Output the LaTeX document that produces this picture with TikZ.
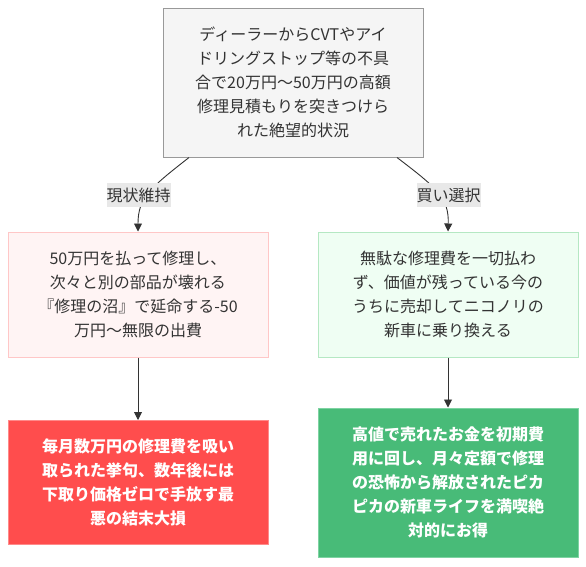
\documentclass[tikz,border=0pt]{standalone}
\usepackage{fontspec}
\setmainfont{Noto Sans CJK JP}
\usetikzlibrary{arrows.meta}
\definecolor{txt}{HTML}{333333}
\definecolor{topfill}{HTML}{F5F5F5}
\definecolor{topdraw}{HTML}{999999}
\definecolor{pinkfill}{HTML}{FFF4F4}
\definecolor{pinkdraw}{HTML}{FFC7C7}
\definecolor{greenfill}{HTML}{EFFEF3}
\definecolor{greendraw}{HTML}{B5E8C3}
\definecolor{redfill}{HTML}{FF4D4D}
\definecolor{reddraw}{HTML}{FF8A8A}
\definecolor{gfill}{HTML}{48BB78}
\definecolor{gdraw}{HTML}{7ED3A2}
\definecolor{lblfill}{HTML}{E8E8E8}
\tikzset{
  box/.style={draw, line width=1pt, minimum width=260pt, inner sep=0pt, align=center,
     font=\fontsize{16}{24}\selectfont, text=txt},
  topbox/.style={box, fill=topfill, draw=topdraw, minimum height=149pt},
  pinkbox/.style={box, fill=pinkfill, draw=pinkdraw, minimum height=125pt},
  greenbox/.style={box, fill=greenfill, draw=greendraw, minimum height=125pt},
  redbox/.style={box, fill=redfill, draw=reddraw, minimum height=124pt, text=white, font=\fontsize{16}{24}\selectfont\bfseries},
  gbox/.style={box, fill=gfill, draw=gdraw, minimum height=149pt, text=white, font=\fontsize{16}{24}\selectfont\bfseries},
  lbl/.style={fill=lblfill, text=txt, inner xsep=0pt, inner ysep=0pt, minimum height=24pt, font=\fontsize{16}{24}\selectfont},
  edge/.style={draw=txt, line width=0.9pt, -{Triangle[length=8pt,width=8pt]}}
}
\begin{document}
\begin{tikzpicture}[x=1pt,y=-1pt]
\useasboundingbox (0,0) rectangle (586,566);
\node[topbox] (top) at (293,82.5) {ディーラーからCVTやアイ\\ドリングストップ等の不具\\合で20万円〜50万円の高額\\修理見積もりを突きつけら\\れた絶望的状況};
\node[pinkbox] (lm) at (138,294.5) {50万円を払って修理し、\\次々と別の部品が壊れる\\『修理の沼』で延命する-50\\万円〜無限の出費};
\node[greenbox] (rm) at (448,294.5) {無駄な修理費を一切払わ\\ず、価値が残っている今の\\うちに売却してニコノリの\\新車に乗り換える};
\node[redbox] (lb) at (138,482.5) {毎月数万円の修理費を吸い\\取られた挙句、数年後には\\下取り価格ゼロで手放す最\\悪の結末大損};
\node[gbox] (rb) at (448,482.5) {高値で売れたお金を初期費\\用に回し、月々定額で修理\\の恐怖から解放されたピカ\\ピカの新車ライフを満喫絶\\対的にお得};
\draw[edge] ([xshift=-104pt]top.south) .. controls (150,188) and (138,198) .. (lm.north);
\draw[edge] ([xshift=104pt]top.south) .. controls (437,188) and (449,198) .. (lm.north -| rm.north);
\node[lbl] (l1) at (138.5,195) {現状維持};
\node[lbl] (l2) at (448.5,195) {買い選択};
\draw[edge] (lm.south) -- (lb.north);
\draw[edge] (rm.south) -- (rb.north);
\end{tikzpicture}
\end{document}
